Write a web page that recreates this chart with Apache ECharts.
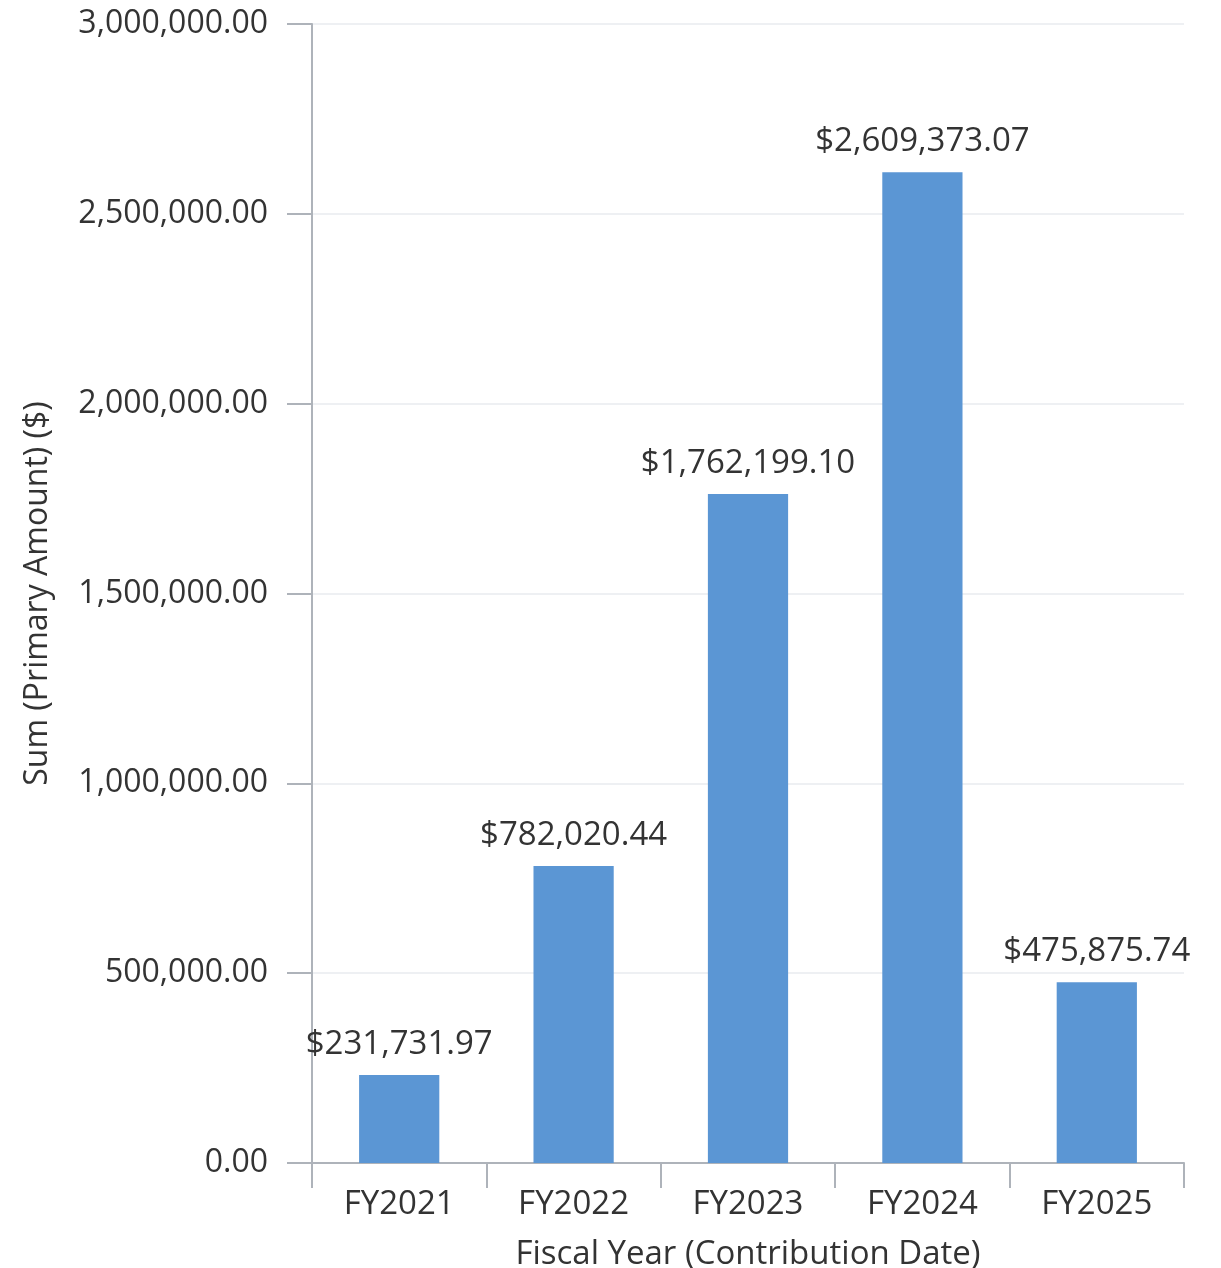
<!DOCTYPE html>
<html>
<head>
<meta charset="utf-8">
<script src="https://cdn.jsdelivr.net/npm/echarts@6/dist/echarts.min.js"></script>
<style>
  html, body { margin: 0; padding: 0; background: #fff; }
  #chart { width: 1221px; height: 1268px; }
</style>
</head>
<body>
<div id="chart"></div>
<script>
// fiscal years and summed amounts
const years = ['FY2021', 'FY2022', 'FY2023', 'FY2024', 'FY2025'];
const amounts = [231731.97, 782020.44, 1762199.10, 2609373.07, 475875.74];

const fontFamily = '"Open Sans", "Noto Sans", sans-serif';
const axisColor = '#aeb3ba';

function fmt(v) {
    return v.toLocaleString('en-US', { minimumFractionDigits: 2, maximumFractionDigits: 2 });
}

const chart = echarts.init(document.getElementById('chart'));

chart.setOption({
    animation: false,
    textStyle: { fontFamily: fontFamily },
    grid: {
        left: 312,
        right: 37,
        top: 24,
        bottom: 105,
        outerBoundsMode: 'none'
    },
    xAxis: {
        type: 'category',
        data: years,
        name: 'Fiscal Year (Contribution Date)',
        nameLocation: 'middle',
        nameGap: 75,
        nameTextStyle: { fontSize: 33, color: '#333', fontFamily: fontFamily },
        axisLine: { show: true, lineStyle: { color: axisColor, width: 2 } },
        axisTick: { show: true, inside: false, length: 25, lineStyle: { color: axisColor, width: 2 } },
        axisLabel: { fontSize: 33, color: '#333', margin: 25 }
    },
    yAxis: {
        type: 'value',
        min: 0,
        max: 3000000,
        interval: 500000,
        name: 'Sum (Primary Amount) ($)',
        nameLocation: 'middle',
        nameGap: 258,
        nameTextStyle: { fontSize: 32, color: '#333', fontFamily: fontFamily },
        axisLine: { show: true, lineStyle: { color: axisColor, width: 2 } },
        axisTick: { show: true, inside: false, length: 25, lineStyle: { color: axisColor, width: 2 } },
        axisLabel: { fontSize: 32, color: '#333', margin: 44, formatter: v => fmt(v) },
        splitLine: { lineStyle: { color: '#eef0f3', width: 2 } }
    },
    series: [{
        type: 'bar',
        data: amounts,
        barWidth: '46%',
        itemStyle: { color: '#5b96d4' },
        label: {
            show: true,
            position: 'top',
            distance: 14,
            fontSize: 33,
            color: '#333',
            fontFamily: fontFamily,
            formatter: p => '$' + fmt(p.value)
        }
    }]
});
</script>
</body>
</html>
